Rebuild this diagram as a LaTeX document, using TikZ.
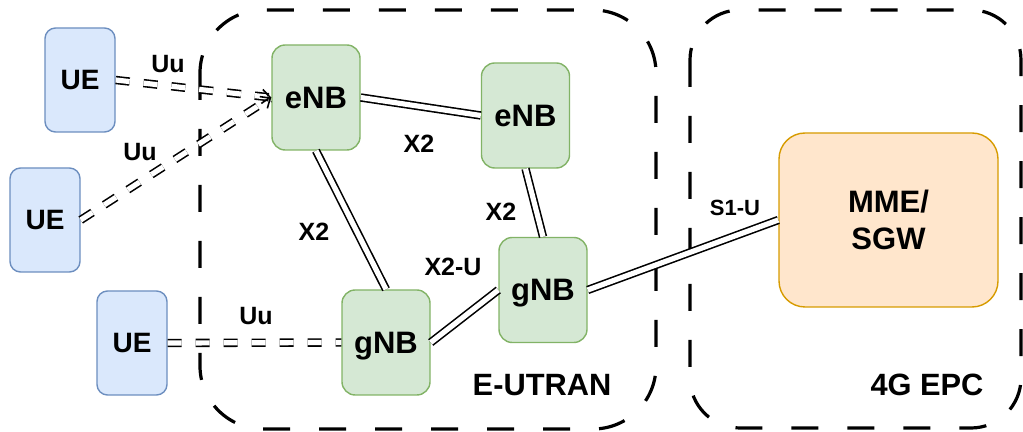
\documentclass[tikz,border=0pt]{standalone}
\usepackage{fontspec}
\setmainfont{Liberation Sans}
\usetikzlibrary{arrows.meta}
\definecolor{uefill}{HTML}{DAE8FC}
\definecolor{uedraw}{HTML}{6C8EBF}
\definecolor{bsfill}{HTML}{D5E8D4}
\definecolor{bsdraw}{HTML}{82B366}
\definecolor{corefill}{HTML}{FFE6CC}
\definecolor{coredraw}{HTML}{D79B00}
\begin{document}
\begin{tikzpicture}[x=0.5pt,y=-0.5pt,
   box/.style={draw=#1draw,fill=#1fill,line width=0.7pt,inner sep=0pt,
   font=\fontsize{15.5}{18.8}\selectfont\bfseries,align=center},
   ue/.style={box=ue,minimum width=35pt,minimum height=52pt,rounded corners=5.25pt,
   font=\fontsize{14}{17}\selectfont\bfseries},
   bs/.style={box=bs,minimum width=44pt,minimum height=52.5pt,rounded corners=6.6pt,text depth=0pt},
   core/.style={box=core,minimum width=109.5pt,minimum height=87pt,rounded corners=13pt},
   zone/.style={draw,line width=1.6pt,dash pattern=on 13.5pt off 14.5pt},
   xlink/.style={draw,line width=0.8pt,double,double distance=2.6pt},
   uulink/.style={xlink,dash pattern=on 7pt off 7pt},
   lbl/.style={font=\fontsize{12.5}{15}\selectfont\bfseries,inner sep=0pt},
   zlbl/.style={font=\fontsize{15.4}{18}\selectfont\bfseries,inner sep=0pt}]
 \useasboundingbox (0,0) rectangle (1023,432);
 \draw[zone,rounded corners=31.5pt] (200,10) rectangle (656,429);
 \draw[zone,rounded corners=25pt] (690,10) rectangle (1021,428);
 \node[zlbl] (eutran) at (542,385) {E-UTRAN};
 \node[zlbl] (epc) at (927,385) {4G EPC};
 \node[ue] (ue1) at (80,80) {UE};
 \node[ue] (ue2) at (45,220) {UE};
 \node[ue] (ue3) at (132,343) {UE};
 \node[bs] (enb1) at (316,97.5) {eNB};
 \node[bs] (enb2) at (525.5,115.5) {eNB};
 \node[bs] (gnb1) at (386,342.5) {gNB};
 \node[bs] (gnb2) at (543,290) {gNB};
 \node[core] (mme) at (888.5,220) {MME/\\SGW};
 \draw[uulink,-{Straight Barb[length=4pt,width=7pt]}] (ue1.east) -- (enb1.west);
 \draw[uulink,-{Straight Barb[length=4pt,width=7pt]}] (ue2.east) -- (enb1.west);
 \draw[uulink] (ue3.east) -- (gnb1.west);
 \draw[xlink] (enb1.east) -- (enb2.west);
 \draw[xlink] (enb1.south) -- (gnb1.north);
 \draw[xlink] (enb2.south) -- (gnb2.north);
 \draw[xlink] (gnb1.east) -- (gnb2.west);
 \draw[xlink] (gnb2.east) -- (mme.west);
 \node[lbl] (uu1) at (168,64) {Uu};
 \node[lbl] (uu2) at (140,152) {Uu};
 \node[lbl] (uu3) at (256,316) {Uu};
 \node[lbl] (x2a) at (419,144) {X2};
 \node[lbl] (x2b) at (314,232) {X2};
 \node[lbl] (x2c) at (501,212) {X2};
 \node[lbl] (x2u) at (453,267) {X2-U};
 \node[lbl,font=\fontsize{11}{13}\selectfont\bfseries] (s1u) at (735,208) {S1-U};
\end{tikzpicture}
\end{document}
